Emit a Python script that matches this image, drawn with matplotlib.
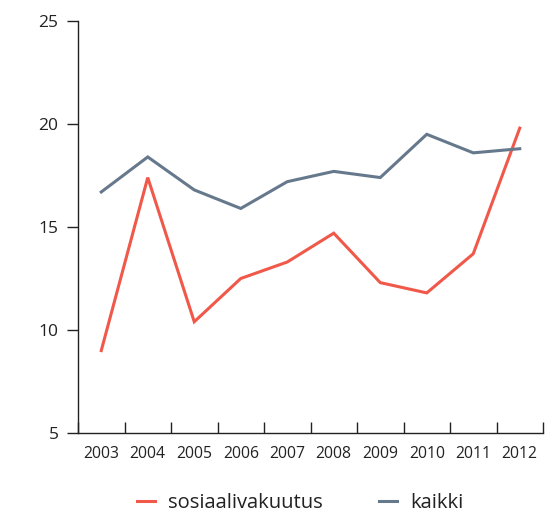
import matplotlib
matplotlib.use("Agg")
import matplotlib.pyplot as plt
from matplotlib.ticker import FixedLocator, NullFormatter, FixedFormatter

years = ["2003", "2004", "2005", "2006", "2007", "2008", "2009", "2010", "2011", "2012"]
sosiaalivakuutus = [9.0, 17.4, 10.4, 12.5, 13.3, 14.7, 12.3, 11.8, 13.7, 19.8]
kaikki = [16.7, 18.4, 16.8, 15.9, 17.2, 17.7, 17.4, 19.5, 18.6, 18.8]
yticks = [5, 10, 15, 20, 25]

plt.rcParams['font.family'] = ['Open Sans', 'DejaVu Sans']

fig = plt.figure(figsize=(5.56, 5.13), dpi=100)
ax = fig.add_axes([78/556, 1-433/513, (543-78)/556, (433-21)/513])

x = list(range(len(years)))
ax.plot(x, sosiaalivakuutus, color="#f0594a", lw=2.2, label="sosiaalivakuutus", solid_joinstyle="miter")
ax.plot(x, kaikki, color="#66798c", lw=2.2, label="kaikki", solid_joinstyle="miter")

ax.set_xlim(-0.5, len(years) - 0.5)
ax.set_ylim(5, 25)
ax.set_yticks(yticks)
ax.tick_params(axis='y', direction='out', length=8, width=1, labelsize=12.5, pad=6, color='#222222', labelcolor='#222222')

ax.xaxis.set_major_locator(FixedLocator([i - 0.5 for i in range(len(years) + 1)]))
ax.xaxis.set_major_formatter(NullFormatter())
ax.xaxis.set_minor_locator(FixedLocator(x))
ax.xaxis.set_minor_formatter(FixedFormatter(years))
ax.tick_params(axis='x', which='major', direction='in', length=8, width=1, color='#222222')
ax.tick_params(axis='x', which='minor', length=0, labelsize=11.3, pad=9, labelcolor='#222222')

for s in ['top', 'right']:
    ax.spines[s].set_visible(False)
for s in ['left', 'bottom']:
    ax.spines[s].set_color('#222222')
    ax.spines[s].set_linewidth(1)

leg = fig.legend(loc='lower center', bbox_to_anchor=(0.5 + 22/556, 0.0), ncol=2, frameon=False,
                 fontsize=14.5, handlelength=0.9, handletextpad=0.65, columnspacing=2.8,
                 borderaxespad=0, borderpad=0)
for t in leg.get_texts():
    t.set_color('#222222')

fig.savefig("out.png", dpi=100)
